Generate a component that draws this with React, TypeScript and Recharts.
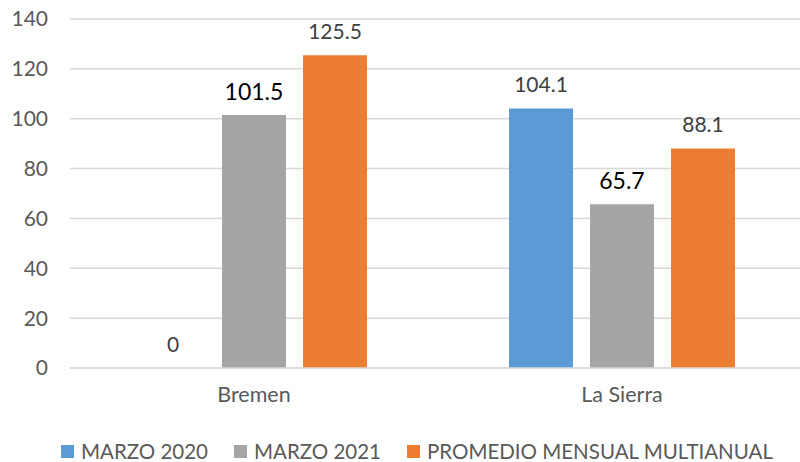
import React from "react";
import { BarChart, Bar, XAxis, YAxis, CartesianGrid, LabelList, Cell } from "recharts";

const categories = ["Bremen", "La Sierra"];
const marzo2020 = [0, 104.1];
const marzo2021 = [101.5, 65.7];
const promedio = [125.5, 88.1];
const yTicks = [0, 20, 40, 60, 80, 100, 120, 140];

const series = [
  { key: "m2020", name: "MARZO 2020", color: "#5B9BD5" },
  { key: "m2021", name: "MARZO 2021", color: "#A5A5A5" },
  { key: "prom", name: "PROMEDIO MENSUAL MULTIANUAL", color: "#ED7D31" },
];

const data = categories.map((name, i) => ({
  name,
  m2020: marzo2020[i],
  m2021: marzo2021[i],
  prom: promedio[i],
}));

const FONT = "Lato, 'Open Sans', sans-serif";

function LegendRow() {
  return (
    <div
      style={{
        position: "absolute",
        left: 61,
        top: 439,
        display: "flex",
        alignItems: "center",
        fontFamily: FONT,
        fontSize: 20.5,
        color: "#595959",
        whiteSpace: "nowrap",
      }}
    >
      {series.map((s, i) => (
        <div key={s.key} style={{ display: "flex", alignItems: "center", marginRight: i < 2 ? 26 : 0 }}>
          <span style={{ width: 13, height: 13, background: s.color, display: "inline-block", marginRight: 7 }} />
          <span>{s.name}</span>
        </div>
      ))}
    </div>
  );
}

export default function App() {
  return (
    <div style={{ position: "absolute", left: 0, top: 0, width: 800, height: 462, overflow: "hidden", background: "#fff" }}>
      <BarChart
        width={806}
        height={462}
        data={data}
        margin={{ top: 19, right: 0, left: 0, bottom: 50 }}
        barGap={17}
        barCategoryGap={71}
      >
        <CartesianGrid vertical={false} stroke="#D9D9D9" strokeWidth={1.5} />
        <XAxis
          dataKey="name"
          axisLine={{ stroke: "#D9D9D9", strokeWidth: 1.5 }}
          tickLine={false}
          height={44}
          tickMargin={13}
          tick={{ fontFamily: FONT, fontSize: 21.5, fill: "#595959" }}
        />
        <YAxis
          width={70}
          domain={[0, 140]}
          ticks={yTicks}
          axisLine={false}
          tickLine={false}
          tickMargin={16}
          tick={{ fontFamily: FONT, fontSize: 21, fill: "#595959" }}
        />
        <Bar dataKey="m2020" name="MARZO 2020" fill="#5B9BD5" minPointSize={0.5} isAnimationActive={false}>
          {marzo2020.map((v, i) => (
            <Cell key={i} fill={v === 0 ? "transparent" : "#5B9BD5"} />
          ))}
          <LabelList dataKey="m2020" position="top" offset={16} style={{ fontFamily: FONT, fontSize: 21, fill: "#404040" }} />
        </Bar>
        <Bar dataKey="m2021" name="MARZO 2021" fill="#A5A5A5" isAnimationActive={false}>
          <LabelList dataKey="m2021" position="top" offset={15} style={{ fontFamily: FONT, fontSize: 23, fill: "#000000" }} />
        </Bar>
        <Bar dataKey="prom" name="PROMEDIO MENSUAL MULTIANUAL" fill="#ED7D31" isAnimationActive={false}>
          <LabelList dataKey="prom" position="top" offset={16} style={{ fontFamily: FONT, fontSize: 21, fill: "#404040" }} />
        </Bar>
      </BarChart>
      <LegendRow />
    </div>
  );
}
